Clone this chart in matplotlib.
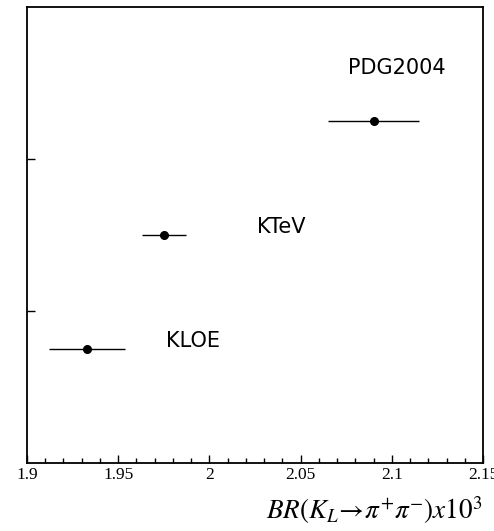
import matplotlib
matplotlib.use('Agg')
import matplotlib.pyplot as plt
from matplotlib.ticker import MultipleLocator

# measurements, BR(KL -> pi+ pi-) x 10^3
labels = ['KLOE', 'KTeV', 'PDG2004']
br = [1.933, 1.975, 2.090]
err = [0.021, 0.012, 0.025]
ypos = [0.75, 1.5, 2.25]
label_x = [1.976, 2.026, 2.076]
label_y = [0.80, 1.55, 2.60]

plt.rcParams['mathtext.fontset'] = 'stix'

fig = plt.figure(figsize=(4.94, 5.31), dpi=100)
ax = fig.add_axes([27/494, 68/531, 456/494, 456/531])

ax.errorbar(br, ypos, xerr=err, fmt='o', color='black',
            markersize=5.5, elinewidth=1, capsize=0)

for name, x, y in zip(labels, label_x, label_y):
    ax.text(x, y, name, fontsize=15, family='DejaVu Sans',
            ha='left', va='center')

ax.set_xlim(1.9, 2.15)
ax.set_ylim(0, 3)
ax.xaxis.set_minor_locator(MultipleLocator(0.01))
ax.set_yticks([1, 2])
ax.set_yticklabels([])
ax.set_xticks([1.9, 1.95, 2.0, 2.05, 2.1, 2.15])
ax.set_xticklabels(['1.9', '1.95', '2', '2.05', '2.1', '2.15'],
                   family='Liberation Serif', fontsize=12.5)
ax.tick_params(axis='x', which='major', direction='in', length=6, width=1, pad=3)
ax.tick_params(axis='x', which='minor', direction='in', length=3.5, width=1)
ax.tick_params(axis='y', which='major', direction='in', length=6, width=1)

for s in ax.spines.values():
    s.set_linewidth(1.3)

ax.set_xlabel(r'$BR(K_L\!\rightarrow\!\pi^{+}\pi^{-})x10^{3}$', fontsize=19.5,
              loc='right', labelpad=8)

fig.savefig('out.png', dpi=100)
